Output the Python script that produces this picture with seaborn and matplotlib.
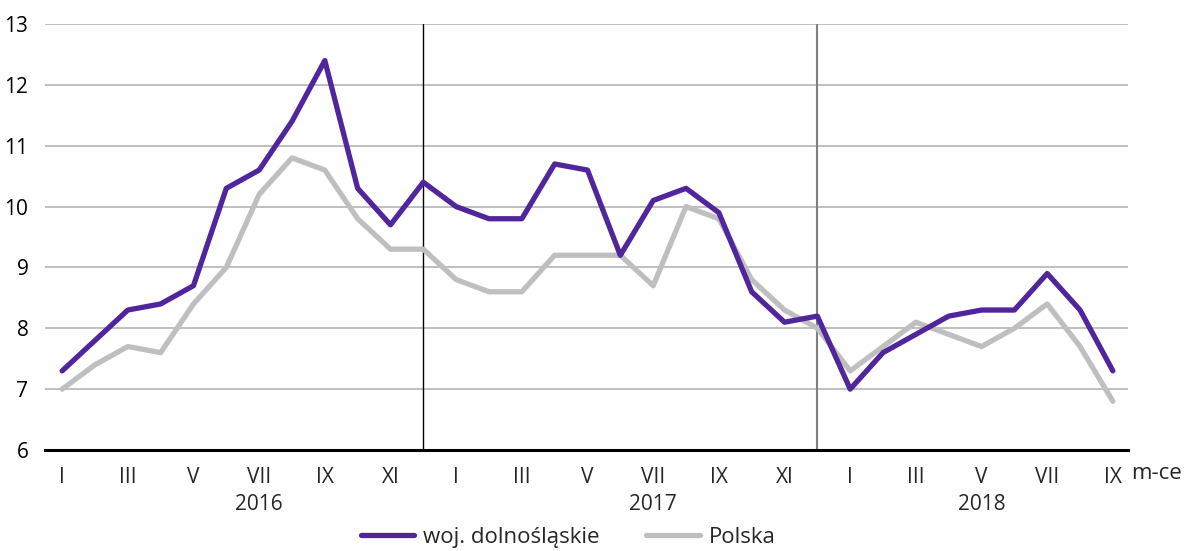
import numpy as np
import pandas as pd
import matplotlib
matplotlib.use("Agg")
import matplotlib.pyplot as plt
import matplotlib.transforms as mtransforms
import seaborn as sns

# DATA

months = ["I", "II", "III", "IV", "V", "VI", "VII", "VIII", "IX", "X", "XI", "XII"]
years = [2016, 2017, 2018]
n_months = 33  # I 2016 .. IX 2018

dolnoslaskie = [7.3, 7.8, 8.3, 8.4, 8.7, 10.3, 10.6, 11.4, 12.4, 10.3, 9.7, 10.4,
                10.0, 9.8, 9.8, 10.7, 10.6, 9.2, 10.1, 10.3, 9.9, 8.6, 8.1, 8.2,
                7.0, 7.6, 7.9, 8.2, 8.3, 8.3, 8.9, 8.3, 7.3]
polska = [7.0, 7.4, 7.7, 7.6, 8.4, 9.0, 10.2, 10.8, 10.6, 9.8, 9.3, 9.3,
          8.8, 8.6, 8.6, 9.2, 9.2, 9.2, 8.7, 10.0, 9.8, 8.8, 8.3, 8.0,
          7.3, 7.7, 8.1, 7.9, 7.7, 8.0, 8.4, 7.7, 6.8]

series_names = ["woj. dolnośląskie", "Polska"]
colors = {"woj. dolnośląskie": "#51259c", "Polska": "#bfbfbf"}

idx = np.arange(n_months)
df = pd.DataFrame({
    "t": np.concatenate([idx, idx]),
    "val": dolnoslaskie + polska,
    "seria": [series_names[0]] * n_months + [series_names[1]] * n_months,
})

# PLOT

sns.set_theme(style="white")
plt.rcParams["font.family"] = ["Open Sans", "DejaVu Sans"]

fig = plt.figure(figsize=(11.92, 5.51), dpi=100)
ax = fig.add_axes([0.0378, 0.1833, 0.9085, 0.7731])

# Polska first so the regional line sits on top
for name, z in [("Polska", 3), ("woj. dolnośląskie", 4)]:
    sns.lineplot(data=df[df["seria"] == name], x="t", y="val", color=colors[name],
                 linewidth=3.8, ax=ax, zorder=z, label=name)

ax.set_xlim(-0.52, 32.46)
ax.set_ylim(6, 13)
ax.set_yticks(range(6, 14))
ax.tick_params(axis="y", length=0, labelsize=15, pad=12, colors="black")
ax.yaxis.grid(True, color="#b4b4b4", linewidth=1.2)
ax.set_axisbelow(True)

# year separators at December
ax.axvline(11, color="black", linewidth=1.0, zorder=2)
ax.axvline(23, color="#7f7f7f", linewidth=1.5, zorder=2)

labels = [months[i % 12] if i % 2 == 0 else "" for i in idx]
ax.set_xticks(idx)
ax.set_xticklabels(labels)
ax.tick_params(axis="x", direction="inout", length=6, width=1.5, color="black",
               labelsize=15, pad=9)

for s in ["top", "right", "left"]:
    ax.spines[s].set_visible(False)
ax.spines["bottom"].set_color("black")
ax.spines["bottom"].set_linewidth(2.2)
ax.set_xlabel("")
ax.set_ylabel("")

trans = mtransforms.blended_transform_factory(ax.transData, ax.transAxes)
year_pos = [6, 18, 28]
for y, p in zip(years, year_pos):
    ax.text(p, -0.129, str(y), transform=trans, ha="center", va="center", fontsize=15)
ax.text(32.55, -0.056, "m-ce", transform=trans, ha="left", va="center", fontsize=16)

handles, lbls = ax.get_legend_handles_labels()
order = [lbls.index(n) for n in series_names]
ax.legend([handles[i] for i in order], [lbls[i] for i in order],
          loc="center", bbox_to_anchor=(0.483, -0.205), ncol=2, frameon=False,
          fontsize=16, handlelength=2.4, columnspacing=2.1, handletextpad=0.4,
          borderaxespad=0, borderpad=0)

fig.savefig("out.png", dpi=100)
